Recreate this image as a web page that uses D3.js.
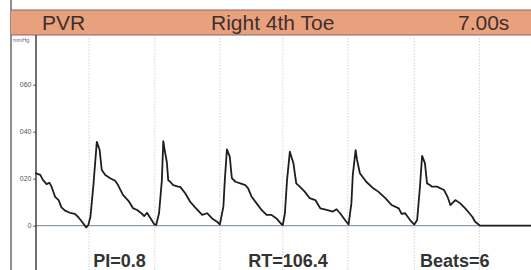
<!DOCTYPE html>
<html>
<head>
<meta charset="utf-8">
<script src="https://cdn.jsdelivr.net/npm/d3@7"></script>
<style>
  html, body { margin: 0; padding: 0; background: #fff; }
  svg { display: block; font-family: "Liberation Sans", Arial, sans-serif; }
</style>
</head>
<body>
<div id="vis-container"></div>
<script>
// header texts
const title = "PVR";
const site = "Right 4th Toe";
const duration = "7.00s";

// trace, time in seconds and pressure
const traceTime = [0.00, 0.06, 0.10, 0.15, 0.19, 0.22, 0.27, 0.32, 0.36, 0.41, 0.48, 0.55, 0.60, 0.65, 0.71, 0.74,
  0.77, 0.81, 0.86, 0.90, 0.93, 0.98, 1.05, 1.12, 1.16, 1.23, 1.31, 1.37, 1.43, 1.49, 1.53, 1.57, 1.61, 1.67, 1.70,
  1.74, 1.78, 1.80, 1.82, 1.85, 1.87, 1.90, 1.94, 2.01, 2.04, 2.11, 2.18, 2.25, 2.35, 2.42, 2.49, 2.56, 2.60,
  2.65, 2.67, 2.70, 2.74, 2.77, 2.82, 2.89, 2.96, 3.00, 3.05, 3.12, 3.19, 3.26, 3.33, 3.40, 3.47, 3.49,
  3.52, 3.55, 3.59, 3.64, 3.68, 3.73, 3.80, 3.87, 3.95, 4.02, 4.11, 4.20, 4.25, 4.30, 4.37, 4.42,
  4.46, 4.48, 4.52, 4.54, 4.58, 4.67, 4.77, 4.84, 4.94, 5.03, 5.13, 5.17, 5.22, 5.29, 5.35,
  5.39, 5.43, 5.46, 5.50, 5.53, 5.57, 5.60, 5.67, 5.77, 5.82, 5.86, 5.93, 6.00, 6.09, 6.17, 6.21, 6.26, 6.28, 7.00];
const tracePressure = [22.3, 21.6, 19.4, 17.7, 18.3, 16.6, 12.3, 10.9, 7.8, 6.4, 5.5, 5.0, 3.6, 1.7, -0.7, 0.3,
  3.8, 16.6, 35.7, 32.2, 23.7, 21.6, 20.2, 19.1, 17.3, 13.1, 10.5, 7.5, 6.7, 5.3, 4.1, 5.5, 3.6, 0.7, 0.3,
  5.3, 19.4, 36.0, 32.2, 27.1, 19.4, 18.6, 17.3, 16.6, 16.5, 13.8, 10.2, 7.8, 4.6, 5.3, 3.1, 1.7, 0.5,
  8.1, 19.4, 32.5, 29.4, 20.2, 18.7, 18.0, 17.3, 15.9, 12.3, 9.5, 6.7, 4.6, 4.6, 3.1, 0.7, 0.3,
  5.3, 19.4, 31.5, 26.6, 18.0, 16.6, 14.5, 11.7, 10.9, 7.4, 6.7, 6.0, 7.0, 5.3, 2.4, 0.5,
  9.5, 21.6, 32.2, 28.0, 22.3, 18.7, 15.9, 14.5, 11.7, 8.8, 7.4, 5.0, 5.3, 2.4, 0.5,
  2.4, 16.6, 29.7, 26.6, 18.0, 17.3, 16.6, 16.6, 15.2, 12.3, 8.8, 10.9, 9.5, 6.7, 3.8, 1.7, 0.5, 0, 0];

// beat onset markers (s)
const beatMarks = [0.75, 1.68, 2.60, 3.49, 4.41, 5.35, 6.27];

// y ticks
const yTickValues = [0, 20, 40, 60];
const yTickLabels = ["0", "020", "040", "060"];

// results row
const resultLabels = ["PI=0.8", "RT=106.4", "Beats=6"];
const resultTimes = [0.81, 3.00, 5.43];

const width = 531;
const height = 270;
const frameLeft = 11;
const bandTop = 10;
const bandBottom = 35;
const plotLeft = 36;

const xScale = d3.scaleLinear().domain([0, 7]).range([plotLeft, width]);
const yScale = d3.scaleLinear().domain([0, 60]).range([225.7, 84.7]);

const svg = d3.select('#vis-container').append('svg')
  .attr('width', width)
  .attr('height', height);

// outer frame line on the left
svg.append('line')
  .attr('x1', frameLeft).attr('x2', frameLeft)
  .attr('y1', 0).attr('y2', height)
  .attr('stroke', '#444').attr('stroke-width', 1.2);

// header band
svg.append('rect')
  .attr('x', frameLeft).attr('y', bandTop)
  .attr('width', width - frameLeft).attr('height', bandBottom - bandTop)
  .attr('fill', '#e9a07d');
svg.append('line')
  .attr('x1', frameLeft).attr('x2', width)
  .attr('y1', bandTop).attr('y2', bandTop)
  .attr('stroke', '#8c6656').attr('stroke-width', 1.2);
svg.append('line')
  .attr('x1', frameLeft).attr('x2', width)
  .attr('y1', bandBottom).attr('y2', bandBottom)
  .attr('stroke', '#8c6656').attr('stroke-width', 1);

const header = svg.append('g')
  .attr('font-size', 21)
  .attr('fill', '#3d302c');
header.append('text').attr('x', 42).attr('y', 30).text(title);
header.append('text').attr('x', 211).attr('y', 30).text(site);
header.append('text').attr('x', 458).attr('y', 30).text(duration);

// unit
svg.append('text')
  .attr('x', 13).attr('y', 42)
  .attr('font-size', 5.5)
  .attr('fill', '#666')
  .text('mmHg');

// beat markers
svg.append('g')
  .selectAll('line')
  .data(beatMarks)
  .join('line')
  .attr('x1', d => xScale(d)).attr('x2', d => xScale(d))
  .attr('y1', bandBottom).attr('y2', height)
  .attr('stroke', '#c8c8c8')
  .attr('stroke-width', 0.8)
  .attr('stroke-dasharray', '1.5,1.5');

// zero line
svg.append('line')
  .attr('x1', plotLeft).attr('x2', width)
  .attr('y1', yScale(0)).attr('y2', yScale(0))
  .attr('stroke', '#8d9fae').attr('stroke-width', 1.3);

// y axis
const yAxis = d3.axisLeft(yScale)
  .tickValues(yTickValues)
  .tickFormat((d, i) => yTickLabels[i])
  .tickSize(3)
  .tickPadding(1.5);
const yAxisG = svg.append('g')
  .attr('transform', `translate(${plotLeft} 0)`)
  .call(yAxis);
yAxisG.select('.domain').remove();
yAxisG.selectAll('line').attr('stroke', '#666');
yAxisG.selectAll('text')
  .attr('font-size', 7)
  .attr('fill', '#555')
  .attr('font-family', '"Liberation Sans", Arial, sans-serif');

svg.append('line')
  .attr('x1', plotLeft).attr('x2', plotLeft)
  .attr('y1', bandBottom).attr('y2', height)
  .attr('stroke', '#222').attr('stroke-width', 1.3);

// pressure trace
const line = d3.line()
  .x((d, i) => xScale(traceTime[i]))
  .y(d => yScale(d))
  .curve(d3.curveLinear);

svg.append('path')
  .datum(tracePressure)
  .attr('fill', 'none')
  .attr('stroke', '#1e1e1e')
  .attr('stroke-width', 1.8)
  .attr('stroke-linejoin', 'round')
  .attr('stroke-linecap', 'round')
  .attr('d', line);

// results
svg.append('g')
  .selectAll('text')
  .data(resultLabels)
  .join('text')
  .attr('x', (d, i) => xScale(resultTimes[i]))
  .attr('y', 267)
  .attr('font-size', 18)
  .attr('font-weight', 'bold')
  .attr('fill', '#333')
  .text(d => d);
</script>
</body>
</html>
